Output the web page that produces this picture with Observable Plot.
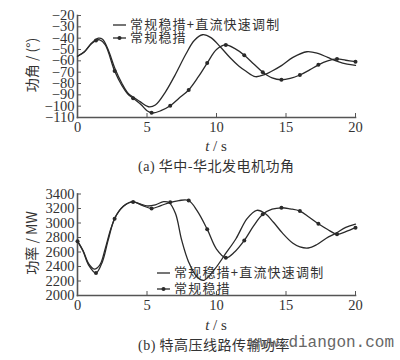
<!DOCTYPE html>
<html>
<head>
<meta charset="utf-8">
<script src="https://cdn.jsdelivr.net/npm/d3@7"></script>
<script src="https://cdn.jsdelivr.net/npm/@observablehq/plot@0.6"></script>
<style>
  html, body { margin: 0; padding: 0; background: #fff; }
  #wrap { position: relative; width: 400px; height: 360px; overflow: hidden; background: #fff; }
  #wrap > svg { position: absolute; left: 0; }
  .lbl { position: absolute; color: #333; white-space: nowrap; line-height: 1; }
  .cjk { font-family: "Noto Sans CJK SC", sans-serif; }
  .ser { font-family: "Liberation Serif", serif; }
  .leg { position: absolute; font-family: "Noto Sans CJK SC", sans-serif; font-size: 13px; letter-spacing: 1.2px; color: #333; white-space: nowrap; line-height: 12px; height: 12px; }
  .leg svg { vertical-align: middle; margin-right: 4px; }
</style>
</head>
<body>
<div id="wrap"></div>
<script>
// ---------- data ----------
const xTicks = [0, 5, 10, 15, 20];

// (a) generator power angle (deg)
const yTicksA = [-110, -100, -90, -80, -70, -60, -50, -40, -30, -20];
const angleFastT = [0, 0.5, 1.0, 1.5, 1.8, 2.2, 2.67, 3.2, 3.6, 4.0, 4.5, 5.1, 5.6, 6.3, 7.0, 7.8, 8.4, 9.0, 9.6, 10.3, 11.0, 11.6, 12.1, 12.8, 13.5, 14.0, 14.7, 15.5, 16.5, 17.3, 18.0, 18.7, 19.4, 20];
const angleFastV = [-56, -52, -44.5, -40, -41, -50, -66, -80, -88, -92, -96, -100.5, -99, -88, -73, -54, -42, -37, -39.5, -48, -57.5, -64.5, -69, -74, -72, -69, -64, -57, -52, -53.5, -57, -60.5, -63, -64];
const angleConvT = [0, 0.5, 1.0, 1.33, 1.6, 2.0, 2.67, 3.2, 3.6, 4.0, 4.6, 5.0, 5.4, 6.0, 6.67, 7.3, 8.0, 8.7, 9.33, 10.0, 10.67, 11.3, 12.0, 12.7, 13.33, 14.0, 14.67, 15.3, 16.0, 16.7, 17.33, 18.0, 18.67, 19.3, 20];
const angleConvV = [-56, -52, -45, -42, -41.5, -46, -69, -82, -89, -93, -99, -104, -106, -104, -99.7, -93, -85.7, -74, -62, -50, -46, -49, -55, -63, -70, -75, -76.7, -75.5, -72.5, -68, -63.5, -60, -58.3, -59.5, -60.7];
const angleMarkT = [1.33, 2.67, 4.0, 5.33, 6.67, 8.0, 9.33, 10.67, 12.0, 13.33, 14.67, 16.0, 17.33, 18.67, 20];
const angleMarkV = [-42, -69, -93, -105.7, -99.7, -85.7, -62, -46, -55, -70, -76.7, -72.5, -63.5, -58.3, -60.7];

// (b) UHV line power (MW)
const yTicksB = [2000, 2200, 2400, 2600, 2800, 3000, 3200, 3400];
const powerFastT = [0, 0.4, 0.8, 1.2, 1.6, 2.0, 2.4, 2.8, 3.3, 3.9, 4.5, 5.0, 5.6, 6.2, 6.6, 7.05, 7.5, 8.0, 8.6, 9.1, 9.9, 10.65, 11.4, 12.2, 12.9, 13.5, 14.1, 14.75, 15.5, 16.0, 16.6, 17.2, 17.9, 18.6, 19.3, 20];
const powerFastV = [2750, 2620, 2440, 2365, 2420, 2650, 2920, 3110, 3230, 3290, 3265, 3235, 3250, 3295, 3280, 3130, 2760, 2460, 2255, 2210, 2370, 2576, 2783, 3060, 3175, 3130, 3010, 2860, 2720, 2670, 2655, 2700, 2790, 2860, 2940, 2985];
const powerConvT = [0, 0.4, 0.8, 1.33, 1.8, 2.2, 2.67, 3.3, 4.0, 4.7, 5.33, 6.0, 6.67, 7.3, 8.0, 8.6, 9.33, 10.0, 10.67, 11.3, 12.0, 12.67, 13.33, 14.0, 14.67, 15.3, 16.0, 16.67, 17.33, 18.0, 18.67, 19.3, 20];
const powerConvV = [2750, 2610, 2420, 2310, 2470, 2760, 3060, 3230, 3290, 3240, 3200, 3240, 3285, 3310, 3310, 3170, 2915, 2640, 2520, 2600, 2760, 2960, 3120, 3190, 3210, 3195, 3165, 3080, 2990, 2910, 2845, 2880, 2935];
const powerMarkT = [0, 1.33, 2.67, 4.0, 5.33, 6.67, 8.0, 9.33, 10.67, 12.0, 13.33, 14.67, 16.0, 17.33, 18.67, 20];
const powerMarkV = [2750, 2310, 3060, 3290, 3200, 3285, 3310, 2915, 2520, 2760, 3120, 3210, 3165, 2990, 2845, 2935];

const seriesNames = ["常规稳措+直流快速调制", "常规稳措"];

// ---------- helpers ----------
const zipTV = (ts, vs) => ts.map((t, i) => ({t, v: vs[i]}));
const INK = "#2a2a2a";
const AXIS = "#555";
const fmt = d => (d < 0 ? "\u2212" + Math.abs(d) : String(d));

function panel({yDomain, yTicks, fast, conv, marks, marginTop, marginBottom}) {
  return Plot.plot({
    width: 400, height: 180,
    marginTop, marginBottom, marginLeft: 77, marginRight: 45,
    x: {domain: [0, 20]},
    y: {domain: yDomain},
    style: {fontFamily: "Liberation Serif, serif", fontSize: "14.5px", color: "#333", background: "transparent", overflow: "visible"},
    marks: [
      Plot.axisX({ticks: xTicks, tickSize: -4, tickPadding: 8, label: null, stroke: AXIS, tickFormat: fmt}),
      Plot.axisY({ticks: yTicks, tickSize: -4, tickPadding: 7, label: null, stroke: AXIS, tickFormat: fmt}),
      Plot.frame({anchor: "left", stroke: AXIS, strokeWidth: 1.6}),
      Plot.frame({anchor: "bottom", stroke: AXIS, strokeWidth: 1.6}),
      Plot.line(zipTV(fast[0], fast[1]), {x: "t", y: "v", curve: "catmull-rom", stroke: INK, strokeWidth: 1.3}),
      Plot.line(zipTV(conv[0], conv[1]), {x: "t", y: "v", curve: "catmull-rom", stroke: INK, strokeWidth: 1.3}),
      Plot.dot(zipTV(marks[0], marks[1]), {x: "t", y: "v", r: 2, fill: INK, stroke: "none"})
    ]
  });
}

const wrap = document.getElementById("wrap");

const p1 = panel({
  yDomain: [-110, -20], yTicks: yTicksA,
  fast: [angleFastT, angleFastV], conv: [angleConvT, angleConvV], marks: [angleMarkT, angleMarkV],
  marginTop: 15, marginBottom: 63
});
p1.style.top = "0px";
wrap.appendChild(p1);

const p2 = panel({
  yDomain: [2000, 3400], yTicks: yTicksB,
  fast: [powerFastT, powerFastV], conv: [powerConvT, powerConvV], marks: [powerMarkT, powerMarkV],
  marginTop: 13.5, marginBottom: 65
});
p2.style.top = "180px";
wrap.appendChild(p2);

// ---------- text overlays ----------
function addLabel(html, css, cls) {
  const d = document.createElement("div");
  d.className = "lbl " + (cls || "");
  d.innerHTML = html;
  Object.assign(d.style, css);
  wrap.appendChild(d);
  return d;
}
function sample(withDot) {
  return `<svg width="13" height="8" viewBox="0 0 13 8"><line x1="0" y1="4" x2="13" y2="4" stroke="${INK}" stroke-width="1.3"/>` +
    (withDot ? `<circle cx="6.5" cy="4" r="2" fill="${INK}"/>` : "") + `</svg>`;
}
function addLegend(x, y1, y2) {
  [0, 1].forEach(i => {
    const d = document.createElement("div");
    d.className = "leg";
    d.innerHTML = sample(i === 1) + seriesNames[i];
    d.style.left = x + "px";
    d.style.top = (i === 0 ? y1 : y2) - 6 + "px";
    wrap.appendChild(d);
  });
}
addLegend(113, 24, 37);
addLegend(157, 272, 288);

// y labels (rotated)
addLabel("功角 / (°)", {left: "31px", top: "65px", fontSize: "14px", transform: "translate(-50%,-50%) rotate(-90deg)", fontFamily: "Noto Sans CJK SC, sans-serif"});
addLabel("功率 / MW", {left: "31px", top: "243px", fontSize: "14px", transform: "translate(-50%,-50%) rotate(-90deg)", fontFamily: "Noto Sans CJK SC, sans-serif"});

// x labels
addLabel("<i>t</i> / s", {left: "216px", top: "146px", fontSize: "15px", transform: "translate(-50%,-50%)"}, "ser");
addLabel("<i>t</i> / s", {left: "216px", top: "325px", fontSize: "15px", transform: "translate(-50%,-50%)"}, "ser");

// captions
addLabel('<span class="ser">(a)</span> 华中-华北发电机功角', {left: "138px", top: "166px", fontSize: "14px", letterSpacing: "0.5px", transform: "translateY(-50%)"}, "cjk");
addLabel('<span class="ser">(b)</span> 特高压线路传输功率', {left: "138px", top: "345px", fontSize: "14px", letterSpacing: "0.5px", transform: "translateY(-50%)"}, "cjk");

// watermark
addLabel("www.diangon.com", {left: "250px", top: "343px", fontSize: "16px", color: "#666", fontFamily: "Liberation Mono, monospace", transform: "translateY(-50%)"});
</script>
</body>
</html>
